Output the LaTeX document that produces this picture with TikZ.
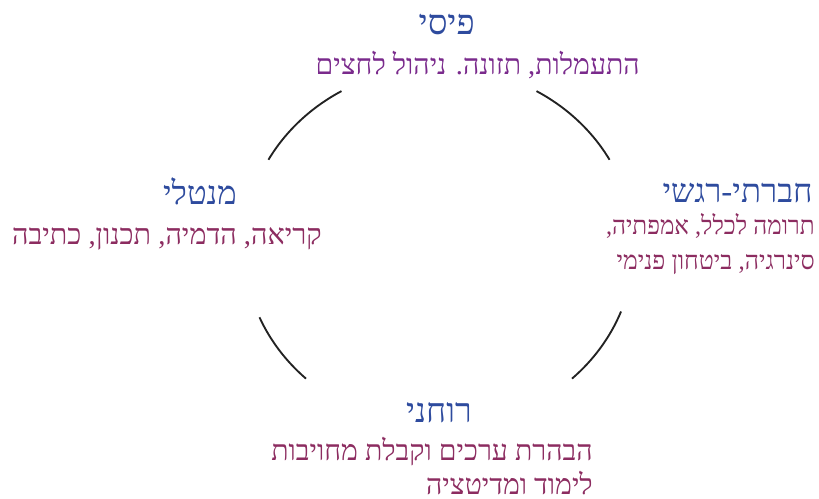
\documentclass[tikz,border=0pt]{standalone}
\usepackage{fontspec}
\TeXXeTstate=1
\newfontfamily\hebfont[Script=Hebrew]{Liberation Serif}
\definecolor{titleblue}{HTML}{2E4B9E}
\definecolor{toppurple}{HTML}{7A2A8C}
\definecolor{bodymaroon}{HTML}{8C2C60}
\definecolor{arcgray}{HTML}{222222}
\tikzset{
  arcline/.style={draw=arcgray, line width=1.4pt},
  ttl/.style={inner sep=0pt, anchor=base east, text=titleblue},
  bdy/.style={inner sep=0pt, anchor=base east, text=bodymaroon},
}
\newcommand{\hfs}[1]{\hebfont\fontsize{#1}{#1}\selectfont}
\begin{document}
\begin{tikzpicture}[x=0.75pt, y=-0.75pt]
\useasboundingbox (0,0) rectangle (819,499);
% arcs of the ellipse around the centre
\coordinate (c) at (439,247);
\draw[arcline] ([shift={(c)}]-120:195 and 180) arc[start angle=-120, end angle=-151, x radius=195, y radius=180];
\draw[arcline] ([shift={(c)}]-29:195 and 180) arc[start angle=-29, end angle=-60, x radius=195, y radius=180];
\draw[arcline] ([shift={(c)}]-203:195 and 180) arc[start angle=-203, end angle=-227, x radius=195, y radius=180];
\draw[arcline] ([shift={(c)}]-313:195 and 180) arc[start angle=-313, end angle=-339, x radius=195, y radius=180];
% top
\node[ttl, font=\hfs{26}] (toptitle) at (475,35) {\beginR פיסי\endR};
\node[bdy, text=toppurple, font=\hfs{21.3}] (topbody) at (640,75) {\beginR התעמלות, תזונה. ניהול לחצים\endR};
% left
\node[ttl, font=\hfs{24.5}] (lefttitle) at (237,205) {\beginR מנטלי\endR};
\node[bdy, font=\hfs{21.5}] (leftbody) at (322,245) {\beginR קריאה, הדמיה, תכנון, כתיבה\endR};
% right
\node[ttl, font=\hfs{24.7}] (righttitle) at (813,203) {\beginR חברתי-רגשי\endR};
\node[bdy, font=\hfs{19.2}] (rightbody1) at (815,235) {\scalebox{0.95}[1]{\beginR תרומה לכלל, אמפתיה,\endR}};
\node[bdy, font=\hfs{19.2}] (rightbody2) at (815,270) {\scalebox{0.97}[1]{\beginR סינרגיה, ביטחון פנימי\endR}};
% bottom
\node[ttl, font=\hfs{25.5}] (bottomtitle) at (472,423) {\beginR רוחני\endR};
\node[bdy, font=\hfs{21.3}] (bottombody1) at (593,461) {\beginR הבהרת ערכים וקבלת מחויבות\endR};
\node[bdy, font=\hfs{21.3}] (bottombody2) at (593,494) {\beginR לימוד ומדיטציה\endR};
\end{tikzpicture}
\end{document}
